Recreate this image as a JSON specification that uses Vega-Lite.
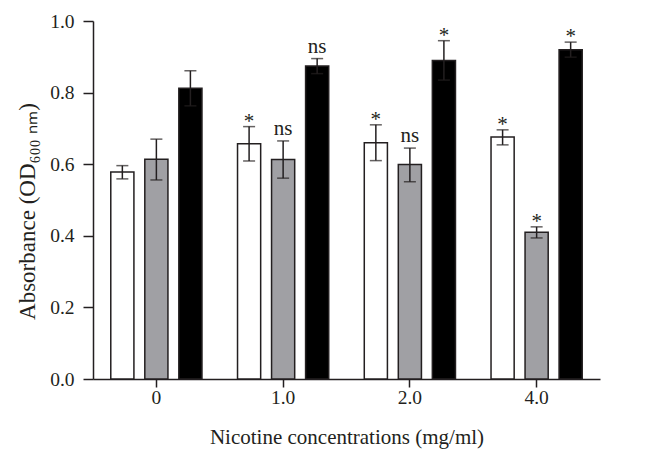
{
  "$schema": "https://vega.github.io/schema/vega-lite/v6.json",
  "width": 507,
  "height": 358,
  "autosize": "none",
  "padding": {"left": 93, "top": 21, "right": 46, "bottom": 87},
  "background": "white",
  "config": {
    "view": {"stroke": null},
    "font": "Liberation Serif",
    "axis": {"grid": false, "domainColor": "#231f20", "tickColor": "#231f20", "labelColor": "#231f20", "titleColor": "#231f20", "labelFont": "Liberation Serif", "titleFont": "Liberation Serif", "labelFontSize": 19.5, "titleFontSize": 21, "titleFontWeight": "normal", "domainWidth": 1.5, "tickWidth": 1.5}
  },
  "data": {
    "values": [
      {"conc": "0", "group": "A", "mean": 0.578, "lo": 0.559, "hi": 0.596, "label": ""},
      {"conc": "0", "group": "B", "mean": 0.614, "lo": 0.556, "hi": 0.670, "label": ""},
      {"conc": "0", "group": "C", "mean": 0.812, "lo": 0.763, "hi": 0.861, "label": ""},
      {"conc": "1.0", "group": "A", "mean": 0.657, "lo": 0.609, "hi": 0.705, "label": "*"},
      {"conc": "1.0", "group": "B", "mean": 0.613, "lo": 0.561, "hi": 0.665, "label": "ns"},
      {"conc": "1.0", "group": "C", "mean": 0.874, "lo": 0.853, "hi": 0.895, "label": "ns"},
      {"conc": "2.0", "group": "A", "mean": 0.660, "lo": 0.610, "hi": 0.710, "label": "*"},
      {"conc": "2.0", "group": "B", "mean": 0.599, "lo": 0.551, "hi": 0.645, "label": "ns"},
      {"conc": "2.0", "group": "C", "mean": 0.890, "lo": 0.835, "hi": 0.945, "label": "*"},
      {"conc": "4.0", "group": "A", "mean": 0.676, "lo": 0.654, "hi": 0.696, "label": "*"},
      {"conc": "4.0", "group": "B", "mean": 0.410, "lo": 0.394, "hi": 0.425, "label": "*"},
      {"conc": "4.0", "group": "C", "mean": 0.920, "lo": 0.899, "hi": 0.941, "label": "*"}
    ]
  },
  "encoding": {
    "x": {
      "field": "conc", "type": "nominal", "sort": ["0", "1.0", "2.0", "4.0"],
      "scale": {"paddingInner": 0.2, "paddingOuter": 0.1},
      "axis": {"title": "Nicotine concentrations (mg/ml)", "labelAngle": 0, "tickSize": 8, "labelPadding": 1, "titlePadding": 20}
    },
    "xOffset": {"field": "group", "type": "nominal", "scale": {"paddingInner": 0.32, "paddingOuter": 0.15}}
  },
  "layer": [
    {
      "mark": {"type": "bar", "stroke": "#231f20", "strokeWidth": 1.5},
      "encoding": {
        "y": {
          "field": "mean", "type": "quantitative",
          "scale": {"domain": [0, 1], "nice": false},
          "axis": {"title": "Absorbance (OD₆₀₀ ₙₘ)", "titleFontSize": 23, "titleY": 190, "values": [0, 0.2, 0.4, 0.6, 0.8, 1.0], "format": ".1f", "tickSize": 10, "labelPadding": 9, "titlePadding": 10}
        },
        "fill": {"field": "group", "type": "nominal", "scale": {"domain": ["A", "B", "C"], "range": ["#ffffff", "#a0a0a4", "#000000"]}, "legend": null}
      }
    },
    {
      "mark": {"type": "rule", "color": "#231f20", "strokeWidth": 1.5},
      "encoding": {"y": {"field": "lo", "type": "quantitative"}, "y2": {"field": "hi"}}
    },
    {
      "mark": {"type": "tick", "color": "#231f20", "thickness": 1.5, "size": 12, "orient": "horizontal"},
      "encoding": {"y": {"field": "hi", "type": "quantitative"}}
    },
    {
      "mark": {"type": "tick", "color": "#231f20", "thickness": 1.5, "size": 12, "orient": "horizontal"},
      "encoding": {"y": {"field": "lo", "type": "quantitative"}}
    },
    {
      "transform": [{"filter": "datum.label == '*'"}],
      "mark": {"type": "text", "font": "Liberation Serif", "fontSize": 21, "color": "#231f20", "baseline": "alphabetic", "dy": 1},
      "encoding": {"y": {"field": "hi", "type": "quantitative"}, "text": {"field": "label"}}
    },
    {
      "transform": [{"filter": "datum.label == 'ns'"}],
      "mark": {"type": "text", "font": "Liberation Serif", "fontSize": 21, "color": "#231f20", "baseline": "alphabetic", "dy": -6},
      "encoding": {"y": {"field": "hi", "type": "quantitative"}, "text": {"field": "label"}}
    }
  ]
}
